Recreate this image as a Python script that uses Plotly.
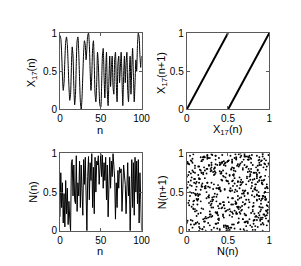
import plotly.graph_objects as go

# ---- data ----
n_vals = list(range(101))
x17 = [0.97, 0.93, 0.75, 0.45, 0.25, 0.35, 0.65, 0.88, 0.95, 0.85,
       0.60, 0.30, 0.12, 0.20, 0.55, 0.82, 0.70, 0.30, 0.06, 0.20,
       0.60, 0.90, 0.95, 0.75, 0.40, 0.10, 0.00, 0.15, 0.45, 0.75,
       0.90, 0.85, 0.65, 0.80, 0.97, 1.00, 0.85, 0.50, 0.25, 0.45,
       0.80, 0.90, 0.60, 0.20, 0.10, 0.35, 0.75, 0.60, 0.25, 0.05,
       0.03, 0.30, 0.70, 0.80, 0.45, 0.15, 0.50, 0.75, 0.25, 0.05,
       0.40, 0.70, 0.30, 0.55, 0.70, 0.30, 0.20, 0.65, 0.75, 0.35,
       0.10, 0.60, 0.70, 0.35, 0.55, 0.75, 0.40, 0.05, 0.45, 0.70,
       0.35, 0.60, 0.75, 0.25, 0.10, 0.50, 0.70, 0.20, 0.55, 0.80,
       0.45, 0.10, 0.35, 0.65, 0.50, 0.85, 1.00, 0.95, 0.70, 0.55,
       0.70]

map_x1 = [0.0, 0.5]
map_x2 = [0.5, 1.0]
map_y = [0.0, 1.0]

N_first = [0.18, 0.75, 0.30, 0.62, 0.10, 0.48, 0.05, 0.65, 0.22, 0.55,
           0.08, 0.38, 0.15, 0.00, 0.88, 0.92, 0.45, 0.85, 0.40, 0.35,
           0.97, 0.25, 0.62, 0.45, 0.90, 0.30, 0.85, 0.52, 0.20, 0.92,
           0.60, 0.95, 0.50, 0.00, 0.70, 0.96, 0.40, 0.88, 0.65, 1.00,
           0.30, 0.82, 0.22, 0.95, 0.50, 0.90, 0.85, 0.97, 0.60, 0.92,
           1.00, 0.70, 0.98, 0.55, 0.88, 0.65, 0.95, 0.40, 0.85, 0.18,
           0.75, 0.95, 0.55, 0.90, 0.70, 1.00, 0.85, 0.68, 0.15, 0.62,
           0.30, 0.78, 0.55, 0.82, 0.75, 0.80, 0.25, 0.80, 0.85, 0.72,
           0.60, 0.22, 0.78, 0.88, 0.45, 0.70, 0.00, 0.55, 0.92, 0.30,
           0.88, 0.20, 0.95, 0.50, 0.90, 0.35, 0.92, 0.10, 0.75, 0.40,
           0.00]

# return-map cloud (N(n), N(n+1)) pairs read as percentages
scatter_x_pct = [
 37, 82, 14, 59, 91, 26, 68, 3, 47, 75, 19, 88, 52, 6, 71, 34, 97, 12, 63, 45, 80, 28, 55, 9, 93,
 41, 66, 17, 84, 30, 58, 2, 77, 49, 23, 95, 61, 8, 39, 86, 15, 72, 44, 99, 27, 53, 11, 68, 35, 90,
 4, 57, 81, 22, 46, 74, 13, 98, 31, 65, 50, 7, 89, 36, 62, 18, 79, 42, 1, 94, 25, 70, 56, 10, 83,
 33, 67, 20, 92, 48, 5, 76, 38, 60, 16, 87, 43, 29, 73, 96, 21, 54, 85, 0, 40, 64, 32, 78, 11, 51,
 69, 24, 90, 45, 13, 82, 58, 35, 99, 7, 63, 27, 74, 48, 19, 88, 3, 56, 39, 93, 15, 70, 42, 81, 26,
 52, 9, 77, 34, 66, 18, 95, 44, 2, 61, 85, 30, 71, 23, 50, 97, 12, 37, 80, 55, 6, 89, 41, 64, 28,
 75, 14, 59, 91, 36, 8, 68, 47, 22, 83, 53, 1, 96, 31, 72, 17, 62, 86, 43, 25, 79, 10, 57, 94, 38,
 4, 65, 29, 87, 49, 73, 20, 98, 54, 11, 40, 84, 33, 67, 5, 92, 46, 76, 15, 58, 27, 81, 63, 0, 35,
 90, 21, 70, 44, 12, 97, 56, 32, 78, 8, 60, 88, 24, 51, 39, 74, 3, 67, 95, 19, 48, 83, 28, 62, 14,
 53, 86, 7, 41, 69, 25, 93, 57, 16, 79, 36, 2, 64, 99, 45, 30, 82, 10, 71, 50, 23, 89, 34, 61, 18,
 77, 42, 96, 9, 55, 31, 85, 66, 13, 47, 72, 26, 94, 38, 6, 59, 80, 20, 68, 43, 91, 15, 52, 75, 1,
 37, 63, 87, 22, 49, 11, 74, 98, 29, 56, 4, 83, 40, 65, 17, 92, 33, 78, 58, 24, 70, 8, 46, 89, 54,
 19, 81, 35, 60, 95, 12, 67, 44, 27, 73, 50, 3, 88, 62, 39, 14, 76, 97, 30, 57, 21, 84, 48, 6, 69,
 41, 93, 16, 72, 25, 53, 86, 0, 64, 32, 79, 45, 10, 99, 58, 28, 71, 37, 90, 13, 61, 82, 5, 47, 26,
 74, 34, 57, 91, 18, 66, 43, 8, 85, 52, 23, 96, 39, 70, 15, 80, 55, 2, 63, 31, 88, 49, 20, 77, 11,
 94, 60, 28, 45, 83, 7, 68, 36, 51, 14, 97, 73, 42, 24, 87, 59, 1, 76, 33, 65, 92, 17, 50, 38, 81,
 9, 55, 72, 29, 96, 46, 12, 84, 62, 35, 78, 21, 48, 91, 4, 67, 27, 58, 89, 40, 16, 74, 53, 98, 31,
 64, 19, 86, 43, 6, 71, 37, 95, 25, 56, 82, 13, 60, 44, 79, 3, 90, 52, 30, 69, 22, 47, 85, 10, 75,
 39, 97, 54, 15, 68, 32, 88, 61, 0, 77, 48, 26, 93, 41, 11, 83, 66, 34, 57, 20, 99, 7, 73, 50, 28,
 87, 45, 18, 63, 92, 36, 5, 80, 59, 24, 70, 42, 14, 94, 51, 76, 29, 8, 65, 38, 85, 56, 17, 91, 33,
]
scatter_y_pct = [
 3, 14, 22, 35, 41, 57, 63, 76, 84, 95,   92, 88, 71, 69, 52, 48, 33, 26, 11, 7,
 1, 18, 24, 39, 45, 51, 66, 78, 82, 99,   94, 87, 73, 64, 58, 43, 31, 29, 16, 5,
 9, 12, 21, 37, 46, 55, 61, 79, 86, 90,   97, 81, 75, 68, 53, 49, 34, 27, 19, 2,
 6, 13, 25, 38, 40, 59, 62, 74, 89, 93,   98, 85, 72, 67, 56, 44, 32, 28, 17, 0,
 8, 15, 20, 36, 47, 50, 65, 77, 83, 91,   96, 80, 70, 60, 54, 42, 30, 23, 10, 4,
 2, 16, 27, 33, 48, 54, 61, 75, 87, 93,   99, 84, 76, 65, 57, 41, 39, 22, 14, 8,
 5, 11, 29, 36, 44, 52, 67, 71, 82, 97,   90, 86, 78, 63, 51, 46, 35, 20, 18, 3,
 7, 19, 24, 31, 42, 58, 69, 74, 85, 94,   92, 83, 77, 62, 55, 49, 37, 25, 12, 1,
 4, 13, 26, 38, 40, 53, 64, 79, 88, 95,   98, 81, 73, 66, 59, 45, 30, 21, 17, 6,
 0, 15, 23, 34, 47, 56, 60, 72, 89, 91,   96, 87, 70, 68, 50, 43, 32, 28, 10, 9,
 8, 12, 22, 37, 41, 57, 65, 76, 80, 99,   93, 85, 74, 61, 54, 48, 33, 27, 19, 2,
 3, 18, 25, 30, 46, 51, 63, 78, 86, 92,   97, 82, 71, 67, 58, 44, 36, 24, 13, 5,
 1, 14, 28, 35, 43, 55, 69, 73, 84, 90,   94, 88, 79, 62, 52, 40, 39, 26, 11, 7,
 6, 17, 21, 32, 49, 53, 66, 75, 81, 98,   91, 83, 72, 64, 56, 47, 31, 23, 16, 0,
 9, 10, 27, 38, 42, 59, 60, 77, 87, 95,   99, 80, 76, 68, 50, 45, 34, 29, 15, 4,
 2, 13, 24, 36, 44, 57, 62, 71, 85, 96,   90, 86, 75, 63, 55, 41, 37, 20, 18, 8,
 5, 19, 26, 31, 48, 52, 65, 79, 82, 93,   97, 84, 70, 69, 54, 46, 33, 25, 12, 3,
 7, 11, 22, 39, 40, 58, 67, 74, 88, 94,   92, 81, 78, 61, 57, 43, 30, 28, 14, 1,
 0, 16, 29, 34, 47, 51, 64, 72, 83, 98,   95, 89, 73, 66, 53, 49, 35, 21, 17, 6,
 4, 15, 23, 37, 45, 56, 68, 76, 80, 91,   99, 87, 77, 60, 59, 42, 38, 27, 10, 9,
 8, 18, 20, 33, 41, 54, 63, 75, 86, 97,   93, 82, 74, 65, 50, 48, 36, 26, 13, 2,
 3, 12, 25, 32, 43, 55, 61, 78, 89, 90,   96, 85, 71, 62, 58, 44, 39, 24, 19, 5,
 1, 17, 28, 30, 49, 57, 69, 73, 84, 92,   94, 83, 79, 67, 52, 40, 31, 22, 11, 7,
 6, 10, 21, 35, 46, 53, 60, 77, 81, 95,   98, 88, 70, 64, 56, 45, 37, 29, 16, 0,
 9, 14, 27, 38, 42, 51, 66, 72, 87, 91,   97, 80, 76, 63, 55, 47, 34, 23, 15, 4,
]

ts_ticks = [0, 50, 100]
unit_ticks = [0, 0.5, 1]
unit_labels = ["0", "0.5", "1"]

# ---- figure ----
m = min(len(scatter_x_pct), len(scatter_y_pct))
cloud_x = N_first[:-1] + [v / 100 for v in scatter_x_pct[:m]]
cloud_y = N_first[1:] + [v / 100 for v in scatter_y_pct[:m]]

W, H = 301, 266
FONT = "Liberation Sans, Arial, sans-serif"
FRAME = "#5a5a5a"

fig = go.Figure()
fig.add_trace(go.Scatter(x=n_vals, y=x17[:len(n_vals)], mode="lines",
                         line=dict(color="black", width=1, shape="spline", smoothing=0.6),
                         xaxis="x", yaxis="y", showlegend=False))
fig.add_trace(go.Scatter(x=map_x1, y=map_y, mode="lines", line=dict(color="black", width=2),
                         xaxis="x2", yaxis="y2", showlegend=False))
fig.add_trace(go.Scatter(x=map_x2, y=map_y, mode="lines", line=dict(color="black", width=2),
                         xaxis="x2", yaxis="y2", showlegend=False))
fig.add_trace(go.Scatter(x=n_vals, y=N_first[:len(n_vals)], mode="lines",
                         line=dict(color="black", width=1),
                         xaxis="x3", yaxis="y3", showlegend=False))
fig.add_trace(go.Scatter(x=cloud_x, y=cloud_y, mode="markers",
                         marker=dict(color="black", size=1.9, line=dict(width=0)),
                         xaxis="x4", yaxis="y4", showlegend=False))

def px(a, b):
    return [a / W, b / W]

def py(top, bottom):
    return [1 - bottom / H, 1 - top / H]

common = dict(showline=True, mirror="ticks", linecolor=FRAME, linewidth=1,
              ticks="inside", ticklen=3, tickcolor=FRAME, tickwidth=1,
              showgrid=False, zeroline=False, fixedrange=True,
              tickfont=dict(family=FONT, size=10, color="black"))

L1, R1 = 51, 136
L2, R2 = 183, 269
T1, B1 = 20, 100
T2, B2 = 146, 227

fig.update_layout(
    width=W, height=H, margin=dict(l=0, r=0, t=0, b=0),
    paper_bgcolor="white", plot_bgcolor="white",
    xaxis=dict(domain=px(L1, R1), range=[0, 100], tickvals=ts_ticks, anchor="y", **common),
    yaxis=dict(domain=py(T1, B1), range=[0, 1], tickvals=unit_ticks, ticktext=unit_labels, anchor="x", **common),
    xaxis2=dict(domain=px(L2, R2), range=[0, 1], tickvals=unit_ticks, ticktext=unit_labels, anchor="y2", **common),
    yaxis2=dict(domain=py(T1, B1), range=[0, 1], tickvals=unit_ticks, ticktext=unit_labels, anchor="x2", **common),
    xaxis3=dict(domain=px(L1, R1), range=[0, 100], tickvals=ts_ticks, anchor="y3", **common),
    yaxis3=dict(domain=py(T2, B2), range=[0, 1], tickvals=unit_ticks, ticktext=unit_labels, anchor="x3", **common),
    xaxis4=dict(domain=px(L2, R2), range=[0, 1], tickvals=unit_ticks, ticktext=unit_labels, anchor="y4", **common),
    yaxis4=dict(domain=py(T2, B2), range=[0, 1], tickvals=unit_ticks, ticktext=unit_labels, anchor="x4", **common),
)

def title(text, x, y, rot=0):
    fig.add_annotation(text=text, x=x / W, y=1 - y / H, xref="paper", yref="paper",
                       showarrow=False, textangle=rot, xanchor="center", yanchor="middle",
                       font=dict(family=FONT, size=11, color="black"))

title("X<sub>17</sub>(n)", 22, 62, -90)
title("n", 93, 121)
title("X<sub>17</sub>(n+1)", 157, 62, -90)
title("X<sub>17</sub>(n)", 226, 121)
title("N(n)", 22, 187, -90)
title("n", 93, 248)
title("N(n+1)", 157, 187, -90)
title("N(n)", 226, 248)

fig.write_html("out.html")
